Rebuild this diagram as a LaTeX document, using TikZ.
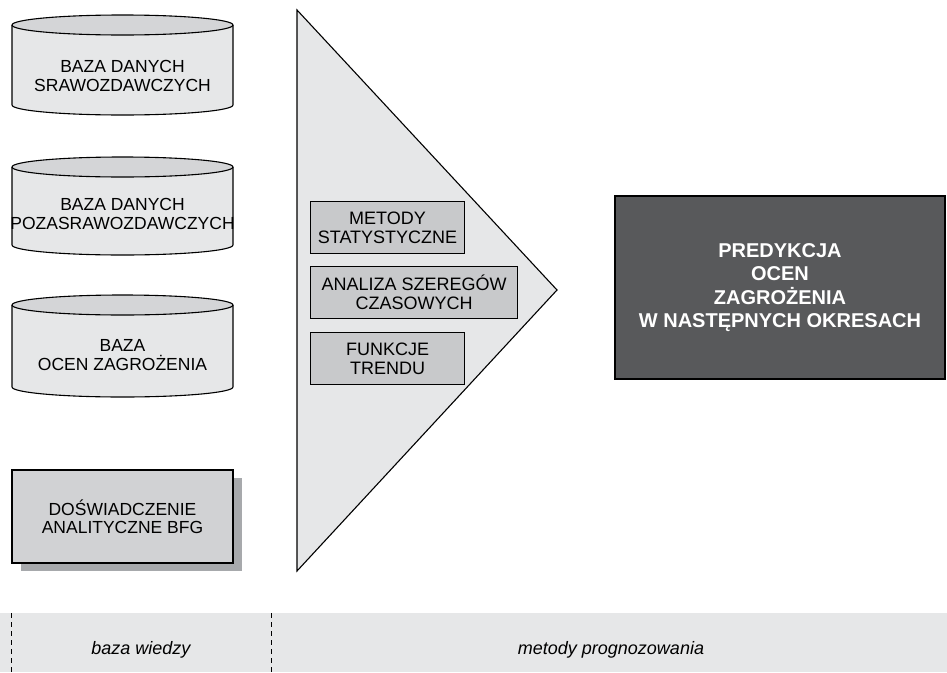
\documentclass[tikz,border=0pt]{standalone}
\usepackage{fontspec}
\setmainfont{Liberation Sans}
\usetikzlibrary{positioning}
\usetikzlibrary{shadows}

\definecolor{lightgrey}{HTML}{E6E7E8}
\definecolor{topgrey}{HTML}{D4D5D7}
\definecolor{boxgrey}{HTML}{D1D2D4}
\definecolor{methgrey}{HTML}{C8C9CB}
\definecolor{shadowgrey}{HTML}{A7A9AC}
\definecolor{darkgrey}{HTML}{58595B}

\begin{document}
\begin{tikzpicture}[x=1pt,y=-1pt,line width=1.1pt,
  dbtext/.style={font=\fontsize{17.5}{18.5}\selectfont,align=center},
  method/.style={draw,fill=methgrey,inner sep=0pt,minimum height=52pt,
    font=\fontsize{18}{19}\selectfont,align=center,anchor=north west},
  caption/.style={font=\itshape\fontsize{18}{20}\selectfont}]
\useasboundingbox (0,0) rectangle (947,672);

% bazy danych
\foreach \yt/\yb in {25/105,167/245,305/387}{
  \draw[fill=lightgrey] (12,\yt) -- (12,\yb)
    arc[start angle=180,end angle=0,x radius=110.5,y radius=10] -- (233,\yt);
  \draw[fill=topgrey] (122.5,\yt) ellipse[x radius=110.5,y radius=10];
}
\node[dbtext] (sprawozd) at (122.5,76)  {BAZA DANYCH\\SRAWOZDAWCZYCH};
\node[dbtext] (pozasprawozd) at (122.5,214) {BAZA DANYCH\\POZASRAWOZDAWCZYCH};
\node[dbtext] (oceny) at (122.5,355) {BAZA\\OCEN ZAGROŻENIA};

\node[draw,fill=boxgrey,minimum width=221pt,minimum height=93pt,dbtext,
  drop shadow={shadow xshift=9pt,shadow yshift=-8pt,fill=shadowgrey,opacity=1}]
  (doswiadczenie) at (122.5,516.5) {DOŚWIADCZENIE\\ANALITYCZNE BFG};

% metody prognozowania
\draw[fill=lightgrey,line join=miter] (297,10) coordinate (trojkat)
  -- (557,290) -- (297,571) -- cycle;
\node[method,minimum width=154pt] (metody) at (310,201) {METODY\\STATYSTYCZNE};
\node[method,minimum width=207pt] (analiza) at ([yshift=-12pt]metody.south west)
  {ANALIZA SZEREGÓW\\CZASOWYCH};
\node[method,minimum width=154pt] (funkcje) at ([yshift=-13pt]analiza.south west)
  {FUNKCJE\\TRENDU};

\node[draw,fill=darkgrey,text=white,minimum width=330pt,minimum height=183pt,
  align=center,font=\bfseries\fontsize{20}{23.5}\selectfont]
  (predykcja) at (780,287.5)
  {PREDYKCJA\\OCEN\\ZAGROŻENIA\\W NASTĘPNYCH OKRESACH};

% pasek opisu
\fill[lightgrey] (0,613) rectangle (947,672);
\draw[line width=0.8pt,dash pattern=on 5pt off 4pt] (11,613) -- (11,672);
\draw[line width=0.8pt,dash pattern=on 5pt off 4pt] (271,613) -- (271,672);
\node[caption] (wiedza) at (141,650) {baza wiedzy};
\node[caption] (prognozy) at (611,650) {metody prognozowania};

\end{tikzpicture}
\end{document}
